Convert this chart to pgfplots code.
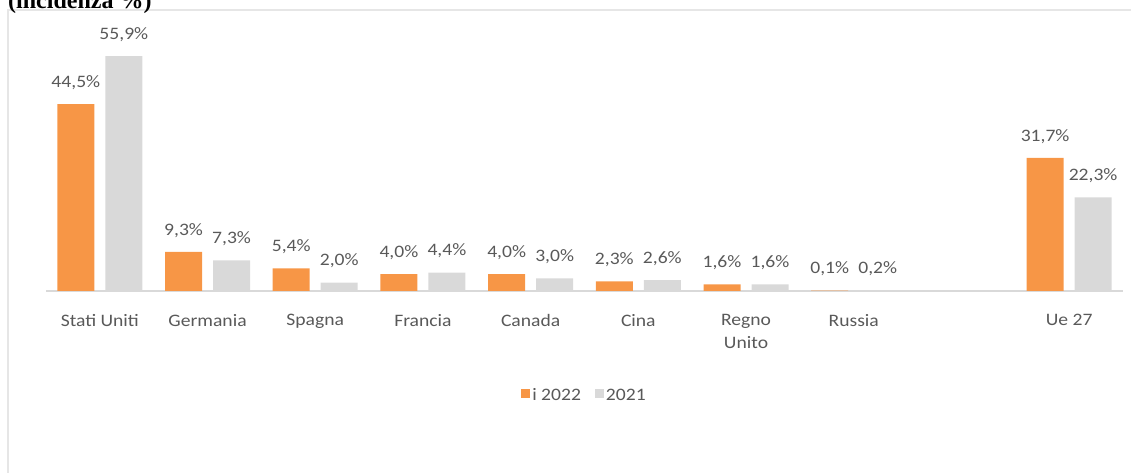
\documentclass[border=0pt]{standalone}
\usepackage{pgfplots}
\pgfplotsset{compat=1.18}
\usepackage{fontspec}
\setmainfont{Carlito}[FakeStretch=1.12]
\newfontfamily\titlefont{Liberation Serif}

\definecolor{barorange}{HTML}{F79646}
\definecolor{bargray}{HTML}{D9D9D9}
\definecolor{labelgray}{HTML}{595959}
\definecolor{framegray}{HTML}{E6E6E6}

\begin{document}
\begin{tikzpicture}[x=1pt,y=1pt]
    \useasboundingbox (0,0) rectangle (1131,473);
    % outer frame of the chart area, cut by the picture edge
    \draw[framegray, line width=1.5pt] (8,-10) rectangle (1145,463);
    \node[anchor=base west, inner sep=0pt, font=\titlefont\bfseries\fontsize{24}{28}\selectfont]
        at (8,464) {(incidenza \%)};

    \begin{axis}[
        at={(46pt,182pt)}, anchor=south west,
        scale only axis,
        width=1077pt, height=252pt,
        xmin=-0.5, xmax=9.5,
        ymin=0, ymax=60,
        ybar=11pt, bar width=37pt,
        clip=false,
        axis x line=bottom, axis y line=none,
        axis line style={-, draw=bargray, line width=1.3pt},
        major tick length=0pt,
        xtick={0,1,2,3,4,5,6,7,9},
        xticklabels={Stati Uniti, Germania, Spagna, Francia, Canada, Cina, Regno\\Unito, Russia, Ue 27},
        xticklabel style={align=center, anchor=north, yshift=-20pt,
            text=labelgray, font=\fontsize{17.5}{23}\selectfont},
        ytick=\empty,
        /pgf/number format/assume math mode=true,
        nodes near coords={\pgfmathprintnumber[fixed, fixed zerofill, precision=1, use comma]{\pgfplotspointmeta}\%},
        every node near coord/.append style={text=labelgray, yshift=11pt,
            font=\fontsize{17.5}{20}\selectfont},
        legend style={at={(0.5,-0.413)}, anchor=center, draw=none,
            legend columns=2, text=labelgray,
            font=\fontsize{17.5}{20}\selectfont,
            /tikz/every even column/.append style={column sep=12pt}},
        legend image code/.code={\fill[#1] (-2pt,-3pt) rectangle (7pt,6pt);},
    ]

    \addplot[fill=barorange, draw=none] coordinates {(0,44.5) (1,9.3) (2,5.4) (3,4.0)
        (4,4.0) (5,2.3) (6,1.6) (7,0.1) (9,31.7)};
    \addlegendentry{i 2022}

    \addplot[fill=bargray, draw=none] coordinates {(0,55.9) (1,7.3) (2,2.0) (3,4.4)
        (4,3.0) (5,2.6) (6,1.6) (7,0.2) (9,22.3)};
    \addlegendentry{2021}
    \end{axis}
\end{tikzpicture}
\end{document}
